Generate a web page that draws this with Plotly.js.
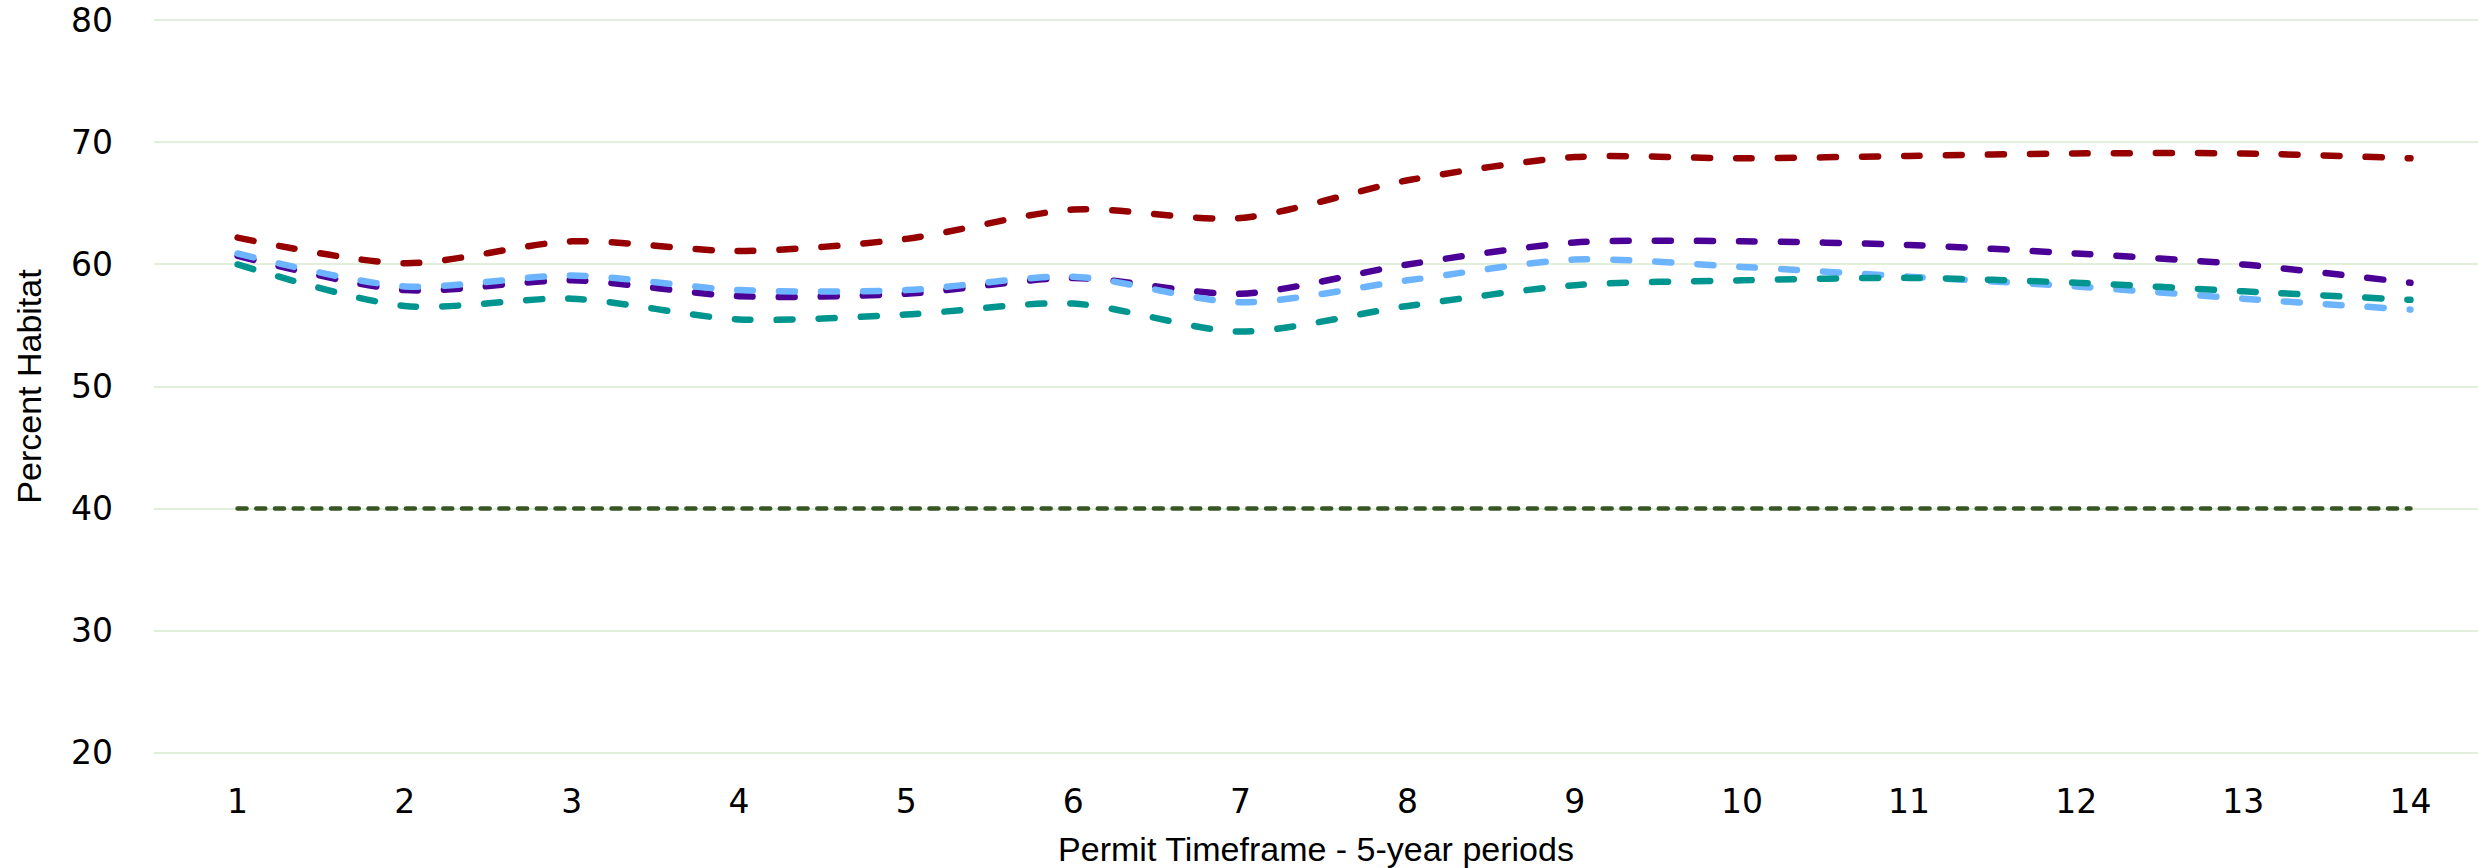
<!DOCTYPE html>
<html>
<head>
<meta charset="utf-8">
<script src="https://cdn.plot.ly/plotly-3.0.1.min.js"></script>
<style>
html, body { margin: 0; padding: 0; background: #ffffff; }
#chart { width: 2478px; height: 868px; }
.scatterlayer .js-line { stroke-linecap: round !important; }
</style>
</head>
<body>
<div id="chart"></div>
<script>
const periods = [1, 2, 3, 4, 5, 6, 7, 8, 9, 10, 11, 12, 13, 14];
const tickLabels = ["1", "2", "3", "4", "5", "6", "7", "8", "9", "10", "11", "12", "13", "14"];
const seriesRed = [62.2, 60.1, 61.9, 61.1, 62.1, 64.5, 63.8, 66.9, 68.8, 68.7, 68.9, 69.1, 69.1, 68.7];
const seriesPurple = [60.7, 57.9, 58.7, 57.4, 57.6, 58.9, 57.6, 60.0, 61.8, 61.9, 61.6, 60.9, 60.0, 58.5];
const seriesBlue = [60.9, 58.2, 59.1, 57.9, 57.9, 59.0, 56.9, 58.7, 60.4, 59.8, 59.0, 58.2, 57.2, 56.3];
const seriesTeal = [60.0, 56.6, 57.2, 55.5, 55.9, 56.8, 54.5, 56.6, 58.3, 58.7, 58.9, 58.5, 57.8, 57.1];
const threshold = [40, 40, 40, 40, 40, 40, 40, 40, 40, 40, 40, 40, 40, 40];
const yTicks = [20, 30, 40, 50, 60, 70, 80];

function mainLine(name, y, color) {
  return {
    type: "scatter", mode: "lines", name: name, x: periods, y: y,
    line: { color: color, width: 6.5, dash: "16px,26px", shape: "spline", smoothing: 0.8 },
    hoverinfo: "skip"
  };
}

const traces = [
  {
    type: "scatter", mode: "lines", name: "Threshold", x: periods, y: threshold,
    line: { color: "#375623", width: 4.5, dash: "9px,9.7px" }, hoverinfo: "skip"
  },
  mainLine("Series A", seriesPurple, "#4B0096"),
  mainLine("Series B", seriesBlue, "#6CB4FF"),
  mainLine("Series C", seriesTeal, "#00958F"),
  mainLine("Series D", seriesRed, "#960000")
];

const layout = {
  width: 2478, height: 868,
  margin: { l: 154, r: 0, t: 18, b: 113, pad: 0 },
  paper_bgcolor: "#ffffff", plot_bgcolor: "#ffffff",
  showlegend: false,
  font: { family: "Liberation Sans, Arial, sans-serif", color: "#000000" },
  xaxis: {
    range: [0.5, 14.404],
    tickmode: "array", tickvals: periods, ticktext: tickLabels,
    showgrid: false, zeroline: false, showline: false, ticks: "",
    tickfont: { family: "DejaVu Sans, sans-serif", size: 33, color: "#000000" },
    ticklabelstandoff: 24,
    title: { text: "Permit Timeframe - 5-year periods", font: { family: "Liberation Sans, Arial, sans-serif", size: 34, color: "#000000" }, standoff: 17 }
  },
  yaxis: {
    range: [19.8, 80.2],
    tickmode: "array", tickvals: yTicks, ticktext: yTicks.map(String),
    showgrid: true, gridcolor: "#E2EFDA", gridwidth: 2,
    zeroline: false, showline: false, ticks: "",
    tickfont: { family: "DejaVu Sans, sans-serif", size: 33, color: "#000000" },
    ticklabelstandoff: 40,
    title: { text: "Percent Habitat", font: { family: "Liberation Sans, Arial, sans-serif", size: 34, color: "#000000" }, standoff: 19 }
  }
};

Plotly.newPlot("chart", traces, layout, { staticPlot: true, displayModeBar: false });
</script>
</body>
</html>
